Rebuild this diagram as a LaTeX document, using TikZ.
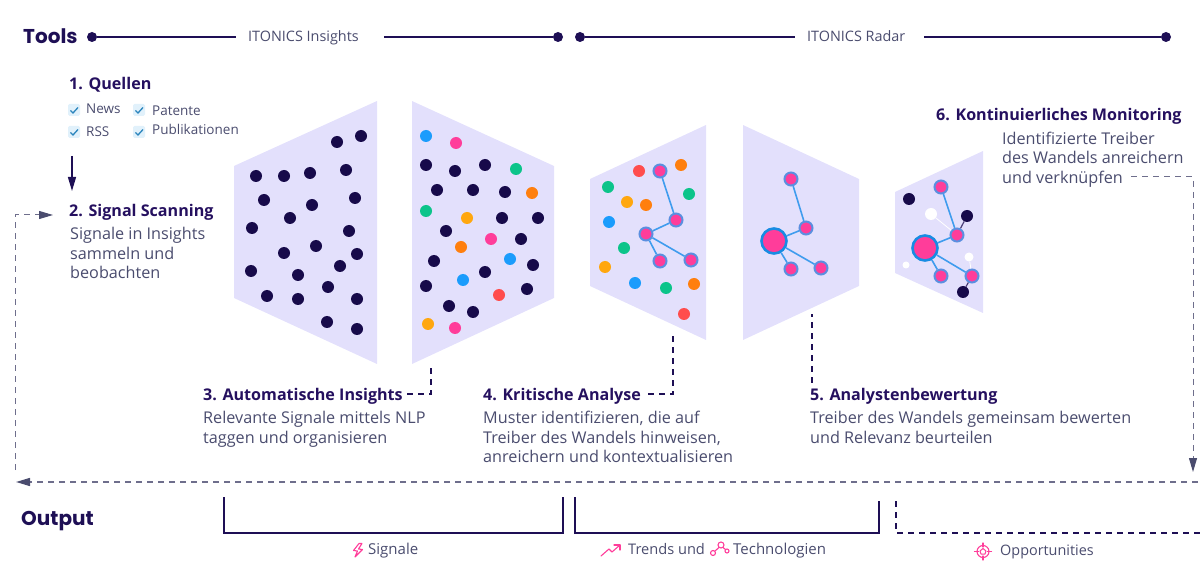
\documentclass[tikz,border=0pt]{standalone}
\usepackage{fontspec}
\setmainfont{Open Sans}
\newfontfamily\popp{Poppins}
\usetikzlibrary{arrows.meta}
\definecolor{navy}{HTML}{1E0F55}
\definecolor{ink}{HTML}{4A4C6E}
\definecolor{headc}{HTML}{25105F}
\definecolor{panel}{HTML}{E3E0FC}
\definecolor{dashc}{HTML}{6E6E8C}
\definecolor{dotnavy}{HTML}{170A4A}
\definecolor{cblue}{HTML}{1B9CFC}
\definecolor{cpink}{HTML}{FF3D9A}
\definecolor{cgreen}{HTML}{0CC48A}
\definecolor{camber}{HTML}{FFA70F}
\definecolor{corange}{HTML}{FF7F0E}
\definecolor{cred}{HTML}{FF4D4D}
\definecolor{lineblue}{HTML}{3F9CEE}
\definecolor{nodering}{HTML}{5B8FE0}
\definecolor{chkbg}{HTML}{E1F1FB}
\definecolor{chk}{HTML}{2B85BD}
\tikzset{
  x=1pt,y=-1pt,
  head/.style={anchor=base west,inner sep=0pt,text=headc,font=\fontsize{16.1}{18}\selectfont\bfseries},
  body/.style={anchor=base west,inner sep=0pt,text=ink,font=\fontsize{16.2}{18}\selectfont},
  smalltxt/.style={anchor=base west,inner sep=0pt,text=ink,font=\fontsize{13.5}{16}\selectfont},
  tool/.style={anchor=base west,inner sep=0pt,text=ink,font=\fontsize{14.4}{16}\selectfont},
  outl/.style={anchor=base west,inner sep=0pt,text=ink,font=\fontsize{14.6}{16}\selectfont},
  bigtxt/.style={anchor=base west,inner sep=0pt,text=navy,font=\fontsize{20}{24}\selectfont\popp\bfseries},
  endpt/.style={circle,fill=navy,inner sep=0pt,minimum size=10pt},
  tline/.style={draw=navy,line width=1.2pt},
  brack/.style={draw=navy,line width=1.1pt},
  dd/.style={draw=dashc,line width=1pt,dash pattern=on 6pt off 5pt},
  ddmain/.style={draw=dashc,line width=1.5pt,dash pattern=on 6pt off 5pt},
  ddn/.style={draw=navy,line width=1.1pt,dash pattern=on 6pt off 5pt},
  gr/.style={circle,fill=cpink,draw=nodering,line width=2pt,inner sep=0pt,minimum size=13pt},
  grbig/.style={circle,fill=cpink,draw=cblue!90!black,line width=2.6pt,inner sep=0pt,minimum size=25pt},
  link/.style={draw=lineblue,line width=1.6pt},
  pan/.style={fill=panel,draw=none},
  ic/.style={draw=cpink,line width=1.1pt,fill=none,line join=round,line cap=round},
  dtip/.style={-{Triangle[length=14pt,width=8pt,fill=ink,color=ink]}},
}
\newcommand{\dotset}[2]{\foreach \px/\py in {#2} {\fill[#1] (\px,\py) circle (6pt);}}
\newcommand{\chkbox}[2]{%
  \fill[chkbg,rounded corners=1.5pt] (#1-6,#2-6) rectangle (#1+6,#2+6);
  \draw[chk,line width=1.3pt] (#1-3.5,#2+0.5) -- (#1-1,#2+3) -- (#1+4,#2-2.5);}
\begin{document}
\begin{tikzpicture}
\useasboundingbox (0,0) rectangle (1200,577);
% panels
\fill[pan] (234,166) -- (377,101) -- (377,364) -- (234,298) -- cycle;
\fill[pan] (412,101) -- (554,166) -- (554,298) -- (412,364) -- cycle;
\fill[pan] (590,179) -- (706,125) -- (706,340) -- (590,286) -- cycle;
\fill[pan] (743,125) -- (859,179) -- (859,286) -- (743,340) -- cycle;
\fill[pan] (895,192) -- (983,151) -- (983,313) -- (895,273) -- cycle;
% panel 1 dots
\dotset{dotnavy}{337/142,361/136,256/176,284/176,310/173,346/170,264/200,312/205,290/218,355/198,252/228,349/231,284/253,316/246,357/254,340/266,251/271,298/275,267/296,298/299,328/287,357/299,327/322,357/329}
% panel 2 dots
\dotset{dotnavy}{426/165,455/171,485/165,437/190,473/190,505/192,502/218,538/218,446/231,521/239,434/261,533/265,485/272,426/286,527/289,449/306,473/312}
\dotset{cblue}{426/136,510/259,463/280}
\dotset{cpink}{456/143,491/239,455/328}
\dotset{cgreen}{516/169,426/211}
\dotset{corange}{532/193,461/247}
\dotset{camber}{467/218,428/324}
\dotset{cred}{499/295}
% panel 3 dots
\dotset{cred}{639/171,684/314}
\dotset{corange}{681/165,646/205,694/284}
\dotset{cgreen}{608/187,689/194,624/248,666/288}
\dotset{camber}{627/202,605/267}
\dotset{cblue}{609/222,635/283}
% panel 3 graph
\node[gr] (a1) at (660,171) {};
\node[gr] (a2) at (676,220) {};
\node[gr] (a3) at (646,234) {};
\node[gr] (a4) at (660,261) {};
\node[gr] (a5) at (691,260) {};
\draw[link] (a1) -- (a2); \draw[link] (a2) -- (a3); \draw[link] (a3) -- (a4); \draw[link] (a3) -- (a5);
% panel 4 graph
\node[gr] (b1) at (791,179) {};
\node[gr] (b2) at (806,228) {};
\node[grbig] (b3) at (774,241) {};
\node[gr] (b4) at (791,269) {};
\node[gr] (b5) at (821,268) {};
\draw[link] (b1) -- (b2); \draw[link] (b2) -- (b3); \draw[link] (b3) -- (b4); \draw[link] (b3) -- (b5);
% panel 5 graph
\node[circle,fill=white,inner sep=0pt,minimum size=12pt] (w1) at (931,214) {};
\node[circle,fill=white,inner sep=0pt,minimum size=9pt] (w2) at (969,257) {};
\node[circle,fill=white,inner sep=0pt,minimum size=7pt] (w3) at (906,265) {};
\node[circle,fill=dotnavy,inner sep=0pt,minimum size=12pt] (n1) at (909,199) {};
\node[circle,fill=dotnavy,inner sep=0pt,minimum size=12pt] (n2) at (967,216) {};
\node[circle,fill=dotnavy,inner sep=0pt,minimum size=12pt] (n3) at (963,292) {};
\node[gr] (c1) at (941,187) {};
\node[gr] (c2) at (957,235) {};
\node[grbig] (c3) at (925,248) {};
\node[gr] (c4) at (941,276) {};
\node[gr] (c5) at (972,276) {};
\draw[white,line width=0.8pt] (w1) -- (c2); \draw[white,line width=0.8pt] (w2) -- (c5);
\draw[navy!80,line width=1.2pt] (n2) -- (c2); \draw[navy!80,line width=1.2pt] (n3) -- (c5);
\draw[link] (c1) -- (c2); \draw[link] (c2) -- (c3); \draw[link] (c3) -- (c4); \draw[link] (c3) -- (c5);
% tool timeline
\node[bigtxt] (tools) at (23,44) {Tools};
\node[endpt] (t1) at (92,37) {};
\node[tool] (tins) at (248,42) {ITONICS Insights};
\coordinate (t1e) at (236,37);
\coordinate (t2s) at (384,37);
\node[endpt] (t2) at (558,37) {};
\node[endpt] (t3) at (580,37) {};
\node[tool] (trad) at (807,42) {ITONICS Radar};
\coordinate (t3e) at (795,37);
\coordinate (t4s) at (924,37);
\node[endpt] (t4) at (1166,37) {};
\draw[tline] (t1) -- (t1e); \draw[tline] (t2s) -- (t2); \draw[tline] (t3) -- (t3e); \draw[tline] (t4s) -- (t4);
% step 1
\node[head] (h1) at (69,90) {1. Quellen};
\chkbox{74}{110}\chkbox{139}{110}\chkbox{74}{132}\chkbox{139}{132}
\node[smalltxt] at (86,113.5) {News};
\node[smalltxt] at (152,115.5) {Patente};
\node[smalltxt] at (86,136.5) {RSS};
\node[smalltxt] at (152,134.5) {Publikationen};
\coordinate (q1) at (72,156);
\coordinate (q2) at (72,191);
\draw[navy,line width=1.3pt,-{Triangle[length=14pt,width=8pt]}] (q1) -- (q2);
% step 2
\node[head] (h2) at (69,217) {2. Signal Scanning};
\node[body] at (70,240) {Signale in Insights};
\node[body] at (70,259.5) {sammeln und};
\node[body] at (70,279) {beobachten};
% step 3
\node[head] (h3) at (203,400) {3. Automatische Insights};
\node[body] at (203,423.5) {Relevante Signale mittels NLP};
\node[body] at (203,443) {taggen und organisieren};
% step 4
\node[head] (h4) at (483,400) {4. Kritische Analyse};
\node[body] at (483,423.5) {Muster identifizieren, die auf};
\node[body] at (483,443) {Treiber des Wandels hinweisen,};
\node[body] at (483,462.5) {anreichern und kontextualisieren};
% step 5
\node[head] (h5) at (810,400) {5. Analystenbewertung};
\node[body] at (810,423.5) {Treiber des Wandels gemeinsam bewerten};
\node[body] at (810,443) {und Relevanz beurteilen};
% step 6
\node[head] (h6) at (936,121) {6. Kontinuierliches Monitoring};
\node[body] at (1002,144.5) {Identifizierte Treiber};
\node[body] at (1002,164) {des Wandels anreichern};
\node[body] at (1002,183.5) {und verknüpfen};
% dashed connectors
\coordinate (d3a) at (407,394); \coordinate (d3b) at (431,394); \coordinate (d3c) at (431,364);
\draw[ddn] (d3a) -- (d3b) -- (d3c);
\coordinate (d4a) at (648,394); \coordinate (d4b) at (673,394); \coordinate (d4c) at (673,334);
\draw[ddn] (d4a) -- (d4b) -- (d4c);
\coordinate (d5a) at (812,383); \coordinate (d5b) at (812,314);
\draw[ddn] (d5a) -- (d5b);
\coordinate (r1) at (1131,177); \coordinate (r2) at (1193,177); \coordinate (r3) at (1193,472);
\draw[dd,dtip] (r1) -- (r2) -- (r3);
\coordinate (m1) at (1198,482); \coordinate (m2) at (16,482);
\draw[ddmain,dtip] (m1) -- (m2);
\coordinate (l1) at (15,470); \coordinate (l2) at (15,215); \coordinate (l3) at (53,215);
\draw[dd,dtip] (l1) -- (l2) -- (l3);
% output
\node[bigtxt] (out) at (21,525) {Output};
\coordinate (b1a) at (224,497); \coordinate (b1b) at (224,533); \coordinate (b1c) at (563,533); \coordinate (b1d) at (563,497);
\draw[brack] (b1a) -- (b1b) -- (b1c) -- (b1d);
\coordinate (b2a) at (575,497); \coordinate (b2b) at (575,533); \coordinate (b2c) at (879,533); \coordinate (b2d) at (879,501);
\draw[brack] (b2a) -- (b2b) -- (b2c) -- (b2d);
\coordinate (b3a) at (896,501); \coordinate (b3b) at (896,533); \coordinate (b3c) at (1200,533);
\draw[ddn] (b3a) -- (b3b) -- (b3c);
% output labels
\node[outl,font=\fontsize{15}{16}\selectfont] at (368,554.5) {Signale};
\node[outl] at (628,554.5) {Trends und};
\node[outl,font=\fontsize{15}{16}\selectfont] at (733,554.5) {Technologien};
\node[outl,font=\fontsize{14.4}{16}\selectfont] at (1000,555) {Opportunities};
% icons
\draw[ic] (359,543.5) -- (353.5,550.5) -- (357.5,551) -- (355,557) -- (362.5,549.5) -- (358.5,549) -- (362,543.5) -- cycle;
\draw[ic] (601,556) -- (609,549) -- (612,552) -- (620,545);
\draw[ic] (614,545) -- (620,545) -- (620,550);
\draw[ic] (713,553) circle (2.5);
\draw[ic] (721,545) circle (3);
\draw[ic] (727,551) circle (2);
\draw[ic] (715,551) -- (719,547.5);
\draw[ic] (723,547.5) -- (725.5,549.5);
\draw[ic] (983,551.5) circle (6);
\draw[ic] (983,543) -- (983,547); \draw[ic] (983,556) -- (983,560);
\draw[ic] (974.5,551.5) -- (978.5,551.5); \draw[ic] (987.5,551.5) -- (991.5,551.5);
\draw[ic,line width=1pt] (983,548.5) -- (986,551) -- (985,554) -- (981,554) -- (980,551) -- cycle;
\end{tikzpicture}
\end{document}
